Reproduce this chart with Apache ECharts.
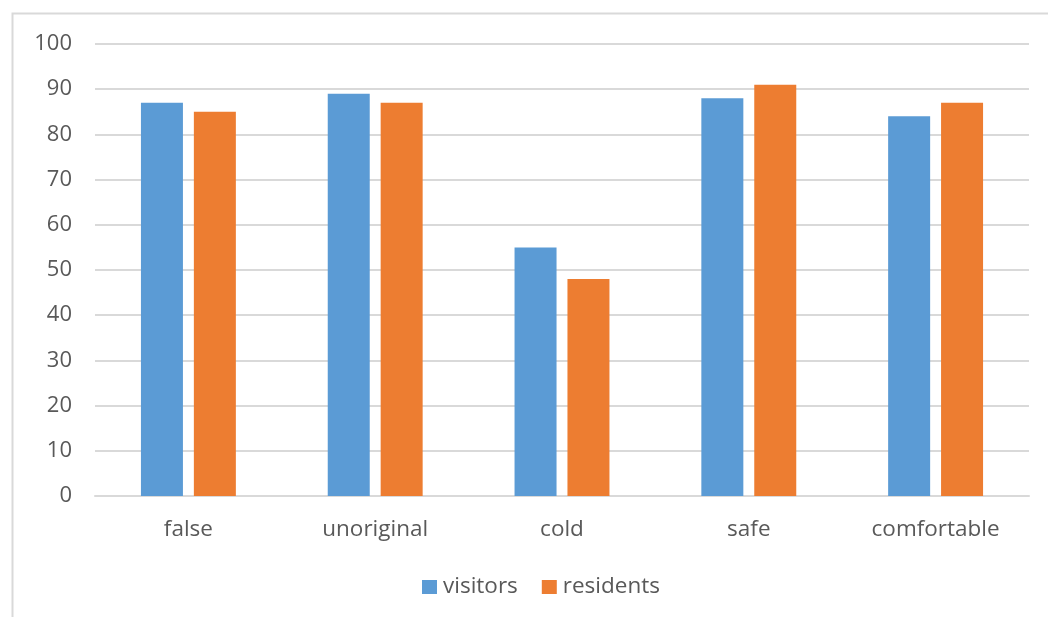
<!DOCTYPE html>
<html><head><meta charset="utf-8">
<script src="https://cdn.jsdelivr.net/npm/echarts@6/dist/echarts.min.js"></script>
<style>html,body{margin:0;padding:0;background:#fff}#c{width:1048px;height:617px}</style>
</head><body><div id="c"></div>
<script>
const categories = ['false', 'unoriginal', 'cold', 'safe', 'comfortable'];
const visitors = [87, 89, 55, 88, 84];
const residents = [85, 87, 48, 91, 87];
const yTicks = [0, 10, 20, 30, 40, 50, 60, 70, 80, 90, 100];

const chart = echarts.init(document.getElementById('c'), null, {renderer: 'canvas'});
const font = '"Open Sans", sans-serif';
chart.setOption({
  animation: false,
  backgroundColor: '#fff',
  textStyle: {fontFamily: font},
  graphic: [{
    type: 'polyline',
    shape: {points: [[12.5, 617], [12.5, 13.5], [1048, 13.5]]},
    style: {stroke: '#d9d9d9', lineWidth: 2, fill: null},
    silent: true
  }],
  grid: {left: 95, right: 19, top: 44, bottom: 121, containLabel: false},
  legend: {
    data: ['visitors', 'residents'],
    top: 573, left: 422, padding: 0,
    itemWidth: 15, itemHeight: 14, itemGap: 24,
    icon: 'rect',
    textStyle: {color: '#595959', fontSize: 22.5, lineHeight: 28, fontFamily: font, padding: [0, 0, 0, 1]}
  },
  xAxis: {
    type: 'category', data: categories,
    axisLine: {lineStyle: {color: '#d9d9d9', width: 2}},
    axisTick: {show: false},
    axisLabel: {color: '#595959', fontSize: 22.5, margin: 22, fontFamily: font}
  },
  yAxis: {
    type: 'value', min: yTicks[0], max: yTicks[yTicks.length - 1], interval: 10,
    axisLine: {show: false}, axisTick: {show: false},
    splitLine: {lineStyle: {color: '#d9d9d9', width: 2}},
    axisLabel: {color: '#595959', fontSize: 22, margin: 23, fontFamily: font}
  },
  series: [
    {name: 'visitors', type: 'bar', data: visitors, barWidth: 42, barGap: '26%',
     itemStyle: {color: '#5b9bd5'}},
    {name: 'residents', type: 'bar', data: residents, barWidth: 42,
     itemStyle: {color: '#ed7d31'}}
  ]
});
</script></body></html>
